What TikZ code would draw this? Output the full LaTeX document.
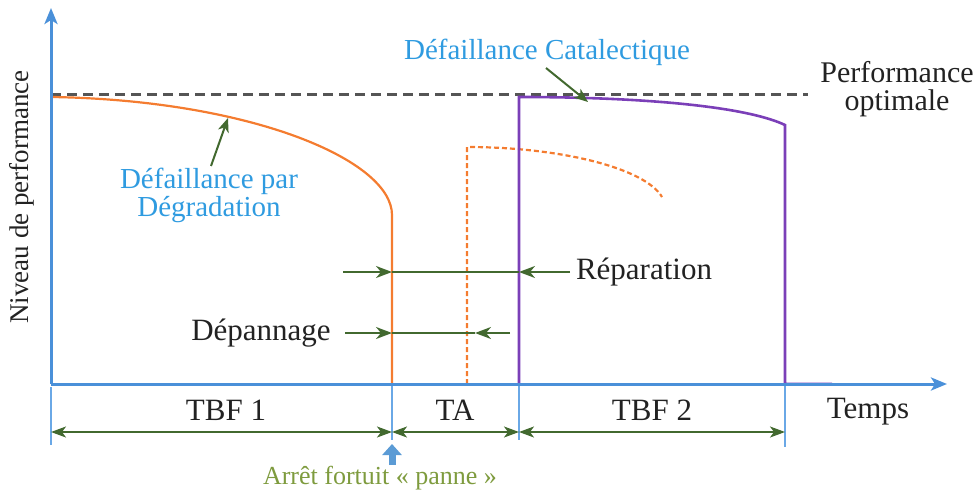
\documentclass[tikz,border=0pt]{standalone}
\usepackage{fontspec}
\setmainfont{Liberation Serif}
\usetikzlibrary{arrows.meta}
\definecolor{axisblue}{HTML}{4A90D9}
\definecolor{tickblue}{HTML}{6AA8E6}
\definecolor{markblue}{HTML}{5B9BD5}
\definecolor{lblblue}{HTML}{2F9BE0}
\definecolor{curveorange}{HTML}{F47C30}
\definecolor{stoptan}{HTML}{C4906E}
\definecolor{curvepurple}{HTML}{7B3FB8}
\definecolor{dimgreen}{HTML}{42692F}
\definecolor{notegreen}{HTML}{7E9B3E}
\definecolor{darktext}{HTML}{222222}
\definecolor{optgray}{HTML}{555555}
\tikzset{
  txt/.style={inner sep=0pt, text=darktext, font=\fontsize{31}{36}\selectfont},
  bluetxt/.style={inner sep=0pt, text=lblblue, font=\fontsize{29}{29}\selectfont, align=center},
  axisline/.style={draw=axisblue, line width=3pt, -{Stealth[length=16pt,width=13pt,inset=4pt]}},
  tickline/.style={draw=tickblue, line width=2pt},
  gtip/.style={-{Stealth[length=16pt,width=12pt,inset=5pt]}},
  dimline/.style={draw=dimgreen, line width=2pt},
  pointer/.style={draw=dimgreen, line width=2pt, -{Stealth[length=14pt,width=11pt,inset=4pt]}},
  orangeline/.style={draw=curveorange, line width=2.2pt},
  purpleline/.style={draw=curvepurple, line width=2.6pt},
}
\begin{document}
\begin{tikzpicture}[x=1pt,y=-1pt]
\useasboundingbox (0,0) rectangle (979,492);

% reference points
\coordinate (O) at (51,384);
\coordinate (Ytop) at (51,8);
\coordinate (Xend) at (947,384);
\coordinate (F1) at (392,384);
\coordinate (R1) at (467,384);
\coordinate (S2) at (519,384);
\coordinate (F2) at (785,384);

% optimal performance level
\draw[optgray, line width=3pt, dash pattern=on 10pt off 6pt] (51,95) coordinate (optL) -- (808,95) coordinate (optR);

% time-scale ticks below the axis
\draw[tickline] (51,387) -- (51,445);
\draw[tickline] (F1) -- (392,440);
\draw[tickline] (S2) -- (519,440);
\draw[tickline] (F2) -- (785,447);

% degradation curve, then stop
\draw[orangeline] (51,97) .. controls (250,100) and (392,160) .. (392,215) -- (F1);
\draw[stoptan, line width=2.6pt] (F1) -- (R1);
% expected curve after repair
\draw[orangeline, dash pattern=on 5pt off 3pt] (R1) -- (467,147) .. controls (560,147) and (645,168) .. (662,197);
% sudden failure curve
\draw[purpleline] (S2) -- (519,97) .. controls (640,97) and (745,106) .. (785,125) -- (F2) -- (832,384);

% axes
\draw[axisline] (O) -- (Ytop);
\draw[axisline] (O) -- (Xend);

% labels
\node[txt, rotate=90, font=\fontsize{27}{30}\selectfont] (ylab) at (22,197) {Niveau de performance};
\node[bluetxt] (degr) at (209,195) {Défaillance par\\[-1pt]Dégradation};
\node[bluetxt] (cata) at (547,52) {Défaillance Catalectique};
\node[txt, align=center, font=\fontsize{30}{28}\selectfont] (opt) at (897,89) {Performance\\optimale};
\node[txt] (repa) at (644,272) {Réparation};
\node[txt] (depa) at (261,333) {Dépannage};
\node[txt] (tbf1) at (226,410) {TBF 1};
\node[txt] (ta) at (455,410) {TA};
\node[txt] (tbf2) at (652,410) {TBF 2};
\node[txt] (temps) at (868,412) {Temps};
\node[inner sep=0pt, text=notegreen, font=\fontsize{26}{30}\selectfont] (arret) at (380,478) {Arrêt fortuit « panne »};

% pointers to the curves
\coordinate (degrTip) at (228,118);
\coordinate (cataTip) at (588,102);
\draw[pointer] (211,166) -- (degrTip);
\draw[pointer] (546,68) -- (cataTip);

% repair interval
\coordinate (rA) at (343,272);
\coordinate (rB) at (392,272);
\coordinate (rC) at (519,272);
\coordinate (rD) at (570,272);
\draw[dimline, gtip] (rA) -- (rB);
\draw[dimline] (rB) -- (rC);
\draw[dimline, gtip] (rD) -- (rC);

% troubleshooting interval
\coordinate (dA) at (345,333);
\coordinate (dB) at (392,333);
\coordinate (dC) at (475,333);
\coordinate (dD) at (510,333);
\draw[dimline, gtip] (dA) -- (dB);
\draw[dimline] (dB) -- (dC);
\draw[dimline, gtip] (dD) -- (dC);

% time between failures / downtime
\coordinate (m0) at (51,432);
\coordinate (m1) at (392,432);
\coordinate (m2) at (519,432);
\coordinate (m3) at (785,432);
\draw[dimline, line width=1.6pt, {Stealth[length=15pt,width=11pt,inset=4pt]}-{Stealth[length=15pt,width=11pt,inset=4pt]}] (m0) -- (m1);
\draw[dimline, line width=1.6pt, {Stealth[length=15pt,width=11pt,inset=4pt]}-{Stealth[length=15pt,width=11pt,inset=4pt]}] (m1) -- (m2);
\draw[dimline, line width=1.6pt, {Stealth[length=15pt,width=11pt,inset=4pt]}-{Stealth[length=15pt,width=11pt,inset=4pt]}] (m2) -- (m3);

% breakdown marker
\draw[draw=markblue, line width=7pt, -{Triangle[length=11pt,width=19pt]}] (392,465) -- (392,444) coordinate (panne);
\end{tikzpicture}
\end{document}
